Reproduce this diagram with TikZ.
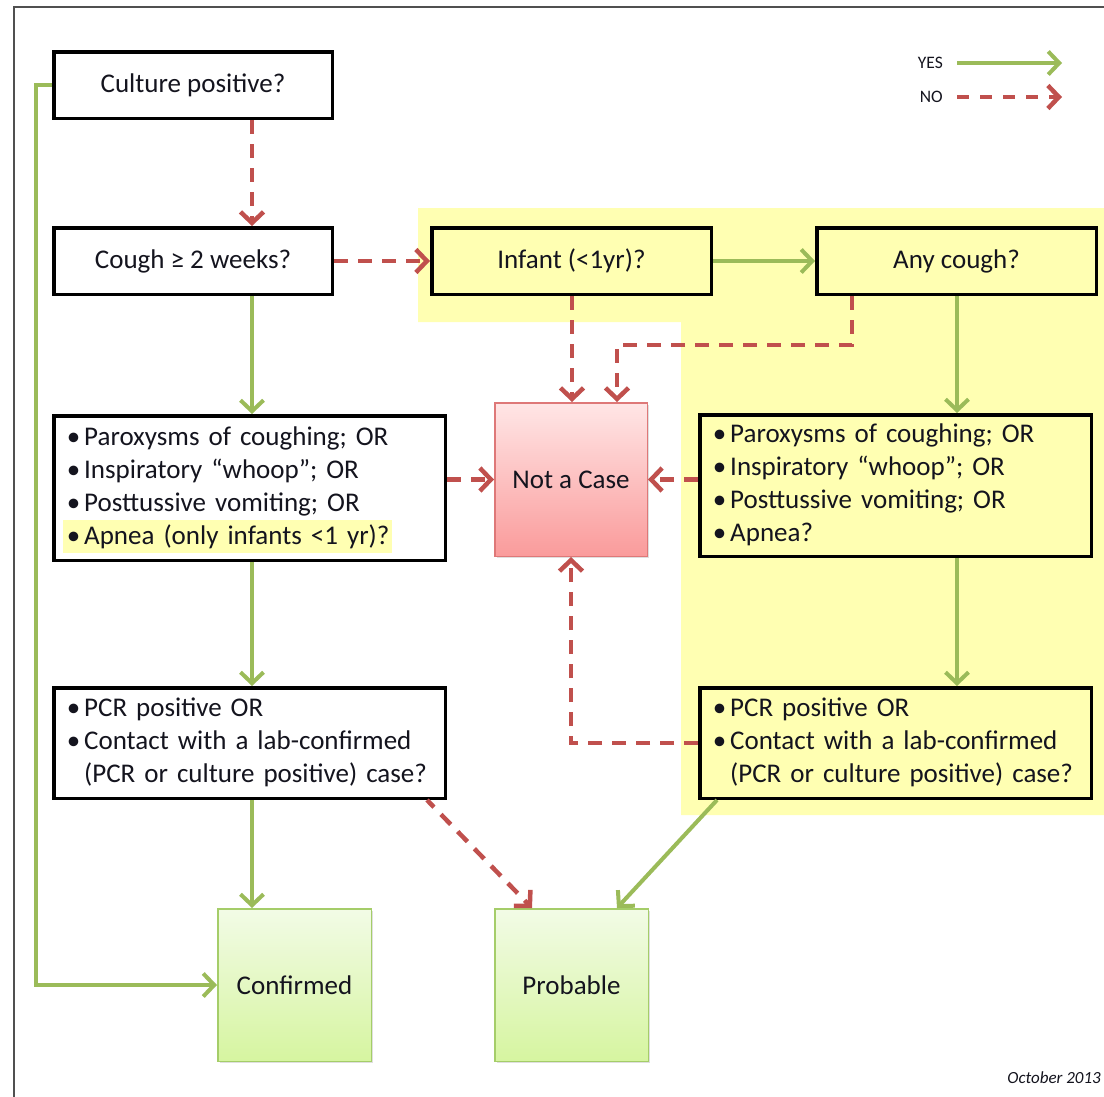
\documentclass[tikz,border=0pt]{standalone}
\usepackage{fontspec}
\setmainfont{Carlito}
\usetikzlibrary{arrows.meta,shadows}
\definecolor{ygreen}{RGB}{155,187,89}
\definecolor{nred}{RGB}{192,80,77}
\definecolor{hilite}{RGB}{255,255,178}
\definecolor{pinktop}{RGB}{255,230,230}
\definecolor{pinkbot}{RGB}{250,155,155}
\definecolor{pinkline}{RGB}{222,120,120}
\definecolor{grtop}{RGB}{242,251,230}
\definecolor{grbot}{RGB}{214,245,160}
\definecolor{grline}{RGB}{165,205,105}
\definecolor{framegray}{RGB}{80,80,80}
\definecolor{txt}{RGB}{20,20,30}
\newcommand{\bl}{\textbullet}
\begin{document}
\begin{tikzpicture}[x=1pt,y=-1pt,font=\fontsize{27}{33}\selectfont,
  qbox/.style={draw=black,line width=3.5pt,minimum width=278.5pt,minimum height=66.5pt,inner sep=0pt,text=txt},
  bbox/.style={draw=black,line width=3.5pt,inner xsep=13pt,inner ysep=0pt,text width=365.5pt,align=left,text=txt},
  redbox/.style={draw=pinkline,line width=1.5pt,top color=pinktop,bottom color=pinkbot,minimum width=152.5pt,minimum height=153.5pt,inner sep=0pt,text=txt,drop shadow={opacity=0.25,shadow xshift=2pt,shadow yshift=-2pt}},
  grbox/.style={draw=grline,line width=1.5pt,top color=grtop,bottom color=grbot,minimum width=153.5pt,minimum height=152.5pt,inner sep=0pt,text=txt,drop shadow={opacity=0.25,shadow xshift=2pt,shadow yshift=-2pt}},
  yesarr/.style={draw=ygreen,line width=4pt,-{Straight Barb[length=11pt,width=23pt]}},
  noarr/.style={draw=nred,line width=4.5pt,dash pattern=on 14pt off 10pt,-{Straight Barb[length=11pt,width=23pt]}},
  lgd/.style={inner sep=0pt,text=txt,font=\fontsize{17.5}{20}\selectfont}]
\useasboundingbox (0,0) rectangle (1104,1096);
\clip (0,0) rectangle (1104,1096);
\fill[white] (0,0) rectangle (1104,1096);
% frame
\draw[framegray,line width=1.5pt] (14,1110) -- (14,7) -- (1115,7);
% highlight areas
\fill[hilite] (418,208) -- (1110,208) -- (1110,815) -- (681,815) -- (681,322) -- (418,322) -- cycle;
\fill[hilite] (63,520) rectangle (392,553);
% nodes
\node[qbox] (culture) at (193,85) {Culture positive?};
\node[qbox] (cough) at (193,261) {Cough ≥ 2 weeks?};
\node[qbox,minimum width=279.5pt] (infant) at (571.5,261) {Infant (<1yr)?};
\node[qbox,minimum width=279.5pt] (anycough) at (956.5,261) {Any cough?};
\node[bbox,minimum height=144.5pt] (lbul) at (249.5,488) {\begin{tabular}{@{}l@{\hspace{4pt}}l@{}}\bl&Paroxysms of coughing; OR\\\bl&Inspiratory “whoop”; OR\\\bl&Posttussive vomiting; OR\\\bl&Apnea (only infants <1 yr)?\end{tabular}};
\node[redbox] (notcase) at (571,479.5) {Not a Case};
\node[bbox,minimum height=141.5pt] (rbul) at (895.5,485.5) {\begin{tabular}{@{}l@{\hspace{4pt}}l@{}}\bl&Paroxysms of coughing; OR\\\bl&Inspiratory “whoop”; OR\\\bl&Posttussive vomiting; OR\\\bl&Apnea?\end{tabular}};
\node[bbox,minimum height=110.5pt] (lpcr) at (249.5,743) {\begin{tabular}{@{}l@{\hspace{4pt}}l@{}}\bl&PCR positive OR\\\bl&Contact with a lab-confirmed\\&(PCR or culture positive) case?\end{tabular}};
\node[bbox,minimum height=110.5pt] (rpcr) at (895.5,743) {\begin{tabular}{@{}l@{\hspace{4pt}}l@{}}\bl&PCR positive OR\\\bl&Contact with a lab-confirmed\\&(PCR or culture positive) case?\end{tabular}};
\node[grbox] (confirmed) at (294.5,985) {Confirmed};
\node[grbox] (probable) at (571.5,985) {Probable};
% legend
\node[lgd,anchor=east] (yeslbl) at (943,63) {YES};
\node[lgd,anchor=east] (nolbl) at (943,97) {NO};
\coordinate (yesend) at (1062,63);
\coordinate (noend) at (1062,97);
\node[lgd,anchor=base east,font=\itshape\fontsize{17}{20}\selectfont] (date) at (1101,1083) {October 2013};
% x positions
\coordinate (xa) at (252,0);
\coordinate (xb) at (572,0);
\coordinate (xc) at (957,0);
\coordinate (xd) at (852,0);
\coordinate (xe) at (617,0);
\coordinate (xf) at (36,0);
\coordinate (xg) at (427,0);
\coordinate (xh) at (532,0);
\coordinate (xi) at (717,0);
\coordinate (bend) at (617,345);
% connectors
\draw[yesarr] ([xshift=14pt]yeslbl.east) -- (yesend);
\draw[noarr,dash pattern=on 12pt off 11pt] ([xshift=14pt]nolbl.east) -- (noend);
\draw[noarr] (culture.south -| xa) -- (cough.north -| xa);
\draw[noarr] (cough.east) -- (infant.west);
\draw[yesarr] (infant.east) -- (anycough.west);
\draw[noarr] (infant.south -| xb) -- (notcase.north -| xb);
\draw[noarr] (anycough.south -| xd) |- (bend) -- (notcase.north -| bend);
\draw[yesarr] (anycough.south -| xc) -- (rbul.north -| xc);
\draw[yesarr] (cough.south -| xa) -- (lbul.north -| xa);
\draw[noarr] (lbul.east |- notcase.west) -- (notcase.west);
\draw[noarr] (rbul.west |- notcase.east) -- (notcase.east);
\draw[yesarr] (lbul.south -| xa) -- (lpcr.north -| xa);
\draw[yesarr] (rbul.south -| xc) -- (rpcr.north -| xc);
\draw[noarr] (rpcr.west) -| (notcase.south);
\draw[yesarr] (lpcr.south -| xa) -- (confirmed.north -| xa);
\draw[noarr,dash pattern=on 14pt off 10pt,dash phase=4pt] (lpcr.south -| xg) -- (probable.north -| xh);
\draw[yesarr] (rpcr.south -| xi) -- (probable.north -| xe);
\draw[yesarr] (culture.west) -- (culture.west -| xf) |- (confirmed.west);
\end{tikzpicture}
\end{document}
